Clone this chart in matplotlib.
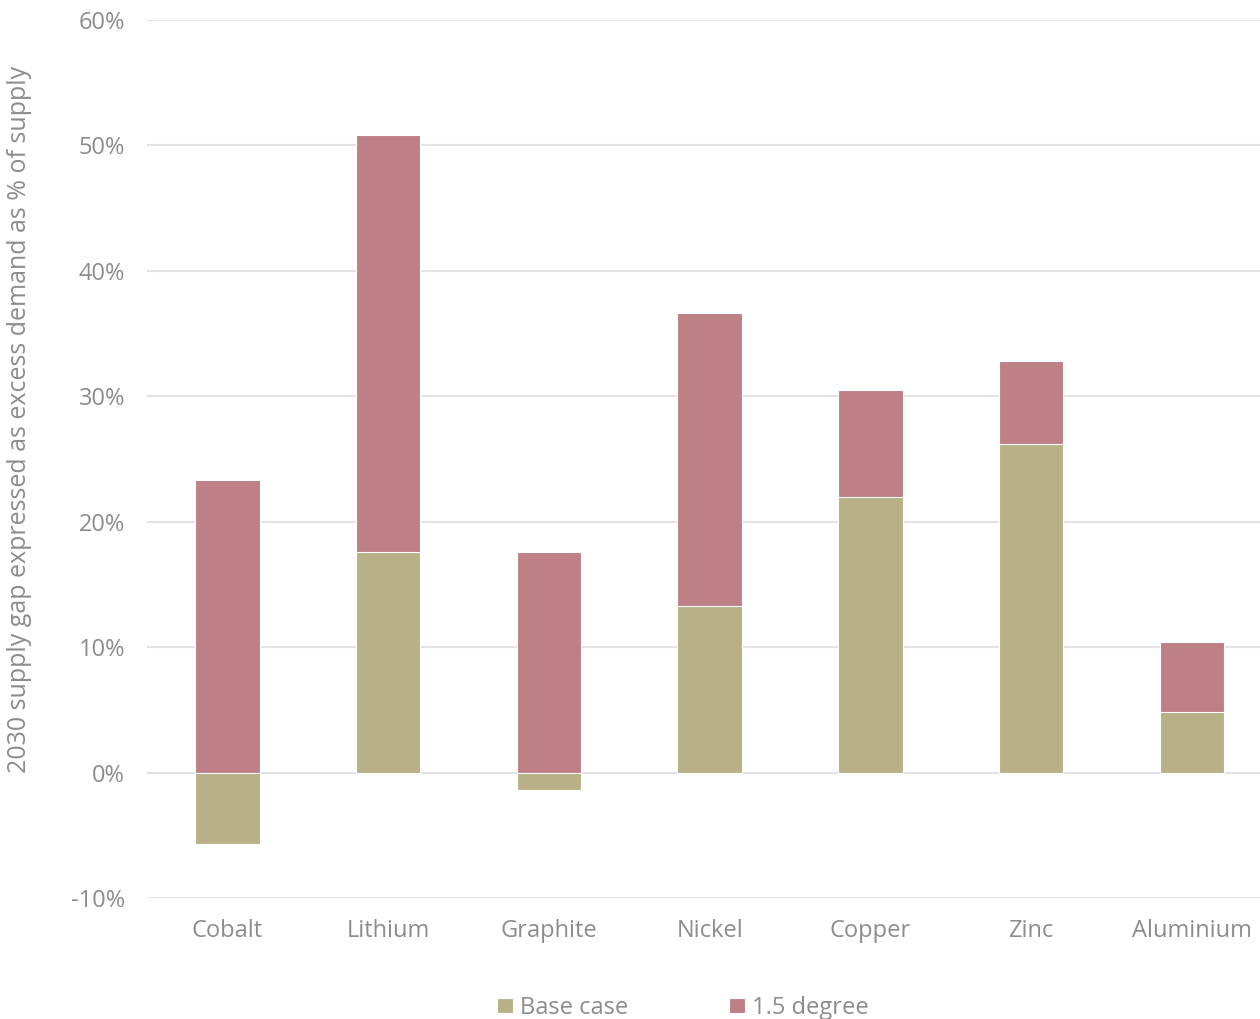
import matplotlib
matplotlib.use('Agg')
import matplotlib.pyplot as plt
import numpy as np

# 2030 supply gap per metal, % of supply
metals = ['Cobalt', 'Lithium', 'Graphite', 'Nickel', 'Copper', 'Zinc', 'Aluminium']
base_case = [-5.7, 17.6, -1.4, 13.3, 22.0, 26.2, 4.8]
degree_15 = [23.3, 50.8, 17.6, 36.6, 30.5, 32.8, 10.4]

base_colour = '#b8b086'
deg_colour = '#be8086'
text_colour = '#8c8c8c'

plt.rcParams['font.family'] = ['Open Sans', 'DejaVu Sans']

fig = plt.figure(figsize=(12.6, 10.19), dpi=100)
ax = fig.add_axes([0.1167, 0.1187, 0.893, 0.8617])

x = np.arange(len(metals))
w = 0.4
# 1.5 degree bar behind, base case drawn over it
ax.bar(x, degree_15, width=w, color=deg_colour, edgecolor='white', linewidth=0.8,
       label='1.5 degree', zorder=2)
ax.bar(x, base_case, width=w, color=base_colour, edgecolor='white', linewidth=0.8,
       label='Base case', zorder=3)

ax.set_xlim(-0.5, 6.5)
ax.set_ylim(-10, 60)
ax.set_yticks(np.arange(-10, 61, 10))
ax.set_yticklabels([f'{v}%' for v in range(-10, 61, 10)])
ax.set_xticks(x)
ax.set_xticklabels(metals)
ax.grid(axis='y', color='#e3e3e3', linewidth=1.5, zorder=0)
ax.set_axisbelow(True)
for s in ax.spines.values():
    s.set_visible(False)
ax.tick_params(length=0, labelsize=17, colors=text_colour)
ax.tick_params(axis='y', pad=16)
ax.tick_params(axis='x', pad=15)
ax.set_ylabel('2030 supply gap expressed as excess demand as % of supply',
              fontsize=18, color=text_colour)
ax.yaxis.set_label_coords(-0.102, 0.545)

handles, labels = ax.get_legend_handles_labels()
leg = fig.legend(handles[::-1], labels[::-1], loc='center', bbox_to_anchor=(0.542, 0.011),
                 ncol=2, frameon=False, fontsize=17, handlelength=0.65, handleheight=0.65,
                 handletextpad=0.3, columnspacing=4.3)
for t in leg.get_texts():
    t.set_color(text_colour)

fig.savefig('out.png', dpi=100)
